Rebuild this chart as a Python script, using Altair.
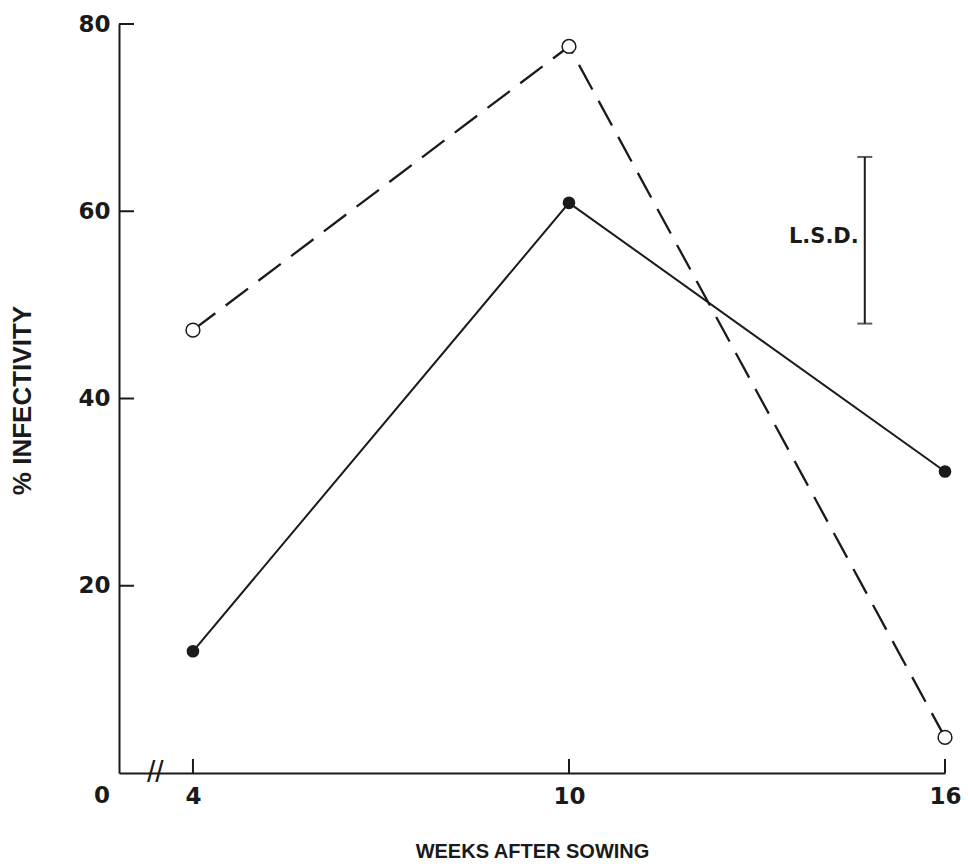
import altair as alt
import pandas as pd

# ---- data ----
weeks = [4, 10, 16]
open_vals = [47.3, 77.6, 3.8]      # open circles, dashed line
filled_vals = [13.0, 60.9, 32.2]   # filled circles, solid line

y_ticks = [20, 40, 60, 80]
x_ticks = [4, 10, 16]

lsd_x = 14.72
lsd_low = 48.0
lsd_high = 65.8
lsd_label = "L.S.D."

x_min, x_max = 2.82, 16
y_min, y_max = 0, 80

FONT = "Liberation Sans"
LFONT = "DejaVu Sans"
INK = "#1a1a1a"
W, H = 826, 749

open_df = pd.DataFrame({"week": weeks, "pct": open_vals})
filled_df = pd.DataFrame({"week": weeks, "pct": filled_vals})
ytick_df = pd.DataFrame({"v": y_ticks})
xtick_df = pd.DataFrame({"v": x_ticks})
lsd_df = pd.DataFrame({"x": [lsd_x], "lo": [lsd_low], "hi": [lsd_high],
                       "mid": [(lsd_low + lsd_high) / 2], "t": [lsd_label]})
cap_df = pd.DataFrame({"x": [lsd_x, lsd_x], "y": [lsd_low, lsd_high]})
origin_df = pd.DataFrame({"x": [x_min], "y": [0], "t": ["0"]})
break_df = pd.DataFrame({"x": [3.4], "y": [0], "t": ["//"]})

xs = alt.Scale(domain=[x_min, x_max], nice=False, zero=False)
ys = alt.Scale(domain=[y_min, y_max], nice=False, zero=False)

x_axis = alt.Axis(
    values=x_ticks, format="d", ticks=False, grid=False, domainColor=INK,
    domainWidth=2, labelFont=LFONT, labelFontSize=23, labelFontWeight="bold",
    labelColor=INK, labelPadding=12, labelFlush=False,
    title="WEEKS AFTER SOWING", titleFont=FONT,
    titleFontSize=20, titleFontWeight="bold", titleColor=INK, titleY=78,
    titleBaseline="middle",
)
y_axis = alt.Axis(
    values=y_ticks, format="d", ticks=False, grid=False, domainColor=INK,
    domainWidth=2, labelFont=LFONT, labelFontSize=23, labelFontWeight="bold",
    labelColor=INK, labelPadding=9, labelFlush=False,
    title="% INFECTIVITY", titleFont=FONT,
    titleFontSize=26, titleFontWeight="bold", titleColor=INK, titleX=-97,
    titleY=376, titleBaseline="middle",
)

base_open = alt.Chart(open_df).encode(
    x=alt.X("week:Q", scale=xs, axis=x_axis),
    y=alt.Y("pct:Q", scale=ys, axis=y_axis),
)
dashed = base_open.mark_line(color=INK, strokeWidth=2.3, strokeDash=[28, 13])
open_pts = base_open.mark_point(shape="circle", filled=True, fill="white",
                                stroke=INK, strokeWidth=1.5, size=190, opacity=1)

base_filled = alt.Chart(filled_df).encode(
    x=alt.X("week:Q", scale=xs), y=alt.Y("pct:Q", scale=ys))
solid = base_filled.mark_line(color=INK, strokeWidth=2)
filled_pts = base_filled.mark_point(shape="circle", filled=True, color=INK,
                                    size=160, opacity=1)

ytick_marks = alt.Chart(ytick_df).mark_rule(color=INK, strokeWidth=2).encode(
    y=alt.Y("v:Q", scale=ys), x=alt.value(0), x2=alt.value(15))
xtick_marks = alt.Chart(xtick_df).mark_rule(color=INK, strokeWidth=2).encode(
    x=alt.X("v:Q", scale=xs), y=alt.value(H), y2=alt.value(H - 14))

lsd_bar = alt.Chart(lsd_df).mark_rule(color=INK, strokeWidth=2).encode(
    x=alt.X("x:Q", scale=xs), y=alt.Y("lo:Q", scale=ys), y2="hi:Q")
lsd_caps = alt.Chart(cap_df).mark_tick(color=INK, orient="horizontal",
                                       size=15, thickness=2).encode(
    x=alt.X("x:Q", scale=xs), y=alt.Y("y:Q", scale=ys))
lsd_text = alt.Chart(lsd_df).mark_text(
    align="right", baseline="middle", dx=-6, dy=-3, font=LFONT, fontSize=21,
    fontWeight="bold", color=INK).encode(
    x=alt.X("x:Q", scale=xs), y=alt.Y("mid:Q", scale=ys), text="t:N")

origin_text = alt.Chart(origin_df).mark_text(
    align="center", baseline="top", dx=-17, dy=12, font=LFONT, fontSize=23,
    fontWeight="bold", color=INK).encode(
    x=alt.X("x:Q", scale=xs), y=alt.Y("y:Q", scale=ys), text="t:N")
break_text = alt.Chart(break_df).mark_text(
    align="center", baseline="middle", dy=0, font=FONT, fontSize=30,
    color=INK).encode(
    x=alt.X("x:Q", scale=xs), y=alt.Y("y:Q", scale=ys), text="t:N")

chart = alt.layer(
    ytick_marks, xtick_marks, dashed, solid, open_pts, filled_pts,
    lsd_bar, lsd_caps, lsd_text, origin_text, break_text,
).properties(
    width=W, height=H,
    autosize=alt.AutoSizeParams(type="none"),
    padding={"left": 119, "top": 24, "right": 23, "bottom": 95},
    background="white",
).configure_view(stroke=None)

chart.save("out.html", embed_options={"renderer": "svg", "actions": False})
